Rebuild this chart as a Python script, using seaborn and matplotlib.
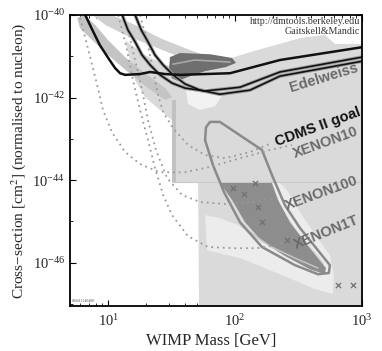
import numpy as np
import pandas as pd
import matplotlib
matplotlib.use("Agg")
import matplotlib.pyplot as plt
import seaborn as sns
from matplotlib.ticker import LogLocator, NullFormatter, LogFormatterMathtext

sns.set_theme(style="ticks")
plt.rcParams['font.family'] = ['Liberation Serif', 'DejaVu Serif']
plt.rcParams['mathtext.fontset'] = 'stix'

# ---------------- data (mass in GeV, log10 of cross-section in cm^2) ----------------
# black limit curves
lim1_mass = [6.6, 7.5, 8.6, 10.0, 11.3, 12.4, 13.6, 17.8, 21.4, 28.1, 36.8, 91.2, 225.9, 1000]
lim1_logxs = [-40.00, -40.36, -40.73, -41.04, -41.28, -41.41, -41.45, -41.43, -41.38, -41.43, -41.45, -41.41, -41.09, -40.78]
lim2_mass = [12.9, 14.3, 16.3, 18.5, 21.4, 25.6, 31.9, 40.3, 58.0, 109.3, 225.9, 1000]
lim2_logxs = [-40.00, -40.36, -40.65, -40.97, -41.21, -41.45, -41.65, -41.77, -41.84, -41.75, -41.38, -41.02]
lim3_mass = [16.3, 18.2, 20.6, 23.4, 27.1, 32.4, 40.3, 53.0, 76.0, 131.0, 225.9, 1000]
lim3_logxs = [-40.00, -40.36, -40.65, -40.97, -41.21, -41.45, -41.67, -41.82, -41.92, -41.82, -41.48, -41.12]

# projected sensitivities (dotted)
xe10_mass = [6.0, 6.6, 7.3, 8.2, 9.1, 10.7, 13.6, 17.8, 25.6, 40.3, 63.4, 109.3, 188.4, 280.5]
xe10_logxs = [-40.07, -40.56, -41.09, -41.70, -42.30, -42.84, -43.32, -43.61, -43.81, -43.81, -43.68, -43.47, -43.27, -43.15]
cdms_mass = [17.8, 20.2, 22.6, 24.7, 27.1, 32.4, 42.6, 58.0, 83.2, 131.0, 195.3]
cdms_logxs = [-40.00, -40.61, -41.33, -41.94, -42.35, -42.74, -43.15, -43.39, -43.47, -43.32, -43.10]
xe100_mass = [14.3, 16.3, 18.5, 20.6, 23.8, 29.1, 38.2, 53.0, 83.2, 143.5, 234.1]
xe100_logxs = [-40.36, -41.09, -41.82, -42.55, -43.27, -43.95, -44.36, -44.53, -44.58, -44.53, -44.39]
xe1t_mass = [12.0, 13.8, 15.7, 17.8, 20.6, 23.4, 27.1, 31.9, 42.6, 61.2, 99.8, 148.7, 206.2, 270.6]
xe1t_logxs = [-40.00, -40.73, -41.58, -42.30, -43.03, -43.71, -44.36, -44.85, -45.36, -45.62, -45.65, -45.65, -45.58, -45.45]

# shaded regions
band1_mass = [5.7, 6.5, 7.9, 10.0, 13.6, 19.5, 28.1, 31.9, 28.1, 20.6, 14.3, 10.0, 7.5, 6.0]
band1_logxs = [-40.07, -40.00, -40.24, -40.61, -41.02, -41.41, -41.77, -41.99, -42.06, -41.77, -41.38, -40.97, -40.61, -40.32]
band2_mass = [7.5, 10.7, 16.3, 25.6, 44.2, 63.4, 53.0, 33.6, 21.4, 13.6, 9.5]
band2_logxs = [-40.00, -40.00, -40.24, -40.56, -40.85, -41.02, -41.14, -40.97, -40.73, -40.48, -40.24]
big_mass = [13.6, 19.5, 28.1, 40.3, 58.0, 83.2, 131.0, 206.2, 324.5, 510.6, 612.0, 1000, 1000,
            52.0, 51.1, 31.9, 31.9, 25.6, 19.5, 16.3]
big_logxs = [-40.61, -40.97, -41.21, -41.28, -41.24, -41.09, -40.90, -40.73, -40.56, -40.48, -40.70, -40.70, -47.10,
             -47.10, -44.05, -44.05, -42.55, -42.30, -41.99, -41.58]
notch_mass = [41.1, 65.8, 78.8, 69.5, 53.0, 42.6]
notch_logxs = [-41.82, -41.77, -41.96, -42.21, -42.30, -42.16]
stripe_mass = [31.9, 34.2, 34.2, 31.9]
stripe_logxs = [-42.06, -42.06, -44.05, -44.05]
boxedge_mass = [31.9, 1000]
boxedge_logxs = [-44.05, -44.05]
pale_mass = [58.0, 60.1, 109.3, 225.9, 425.6, 590.0, 600.5, 558.6, 449.5, 324.5, 256.5, 225.9, 188.4,
             225.9, 296.3, 403.5, 501.4, 501.4, 355.1, 234.1, 151.4, 105.4, 76.0]
pale_logxs = [-44.85, -45.70, -45.89, -46.28, -46.64, -46.76, -46.30, -45.82, -45.41, -44.78, -44.24, -44.07, -44.07,
              -44.61, -45.16, -45.65, -45.99, -46.23, -46.04, -45.75, -45.45, -45.09, -44.92]
blob_mass = [76.0, 195.3, 217.9, 270.6, 355.1, 449.5, 520.0, 510.6, 388.7, 247.3, 162.9, 119.7, 94.6]
blob_logxs = [-44.07, -44.07, -44.48, -45.02, -45.50, -45.89, -46.13, -46.28, -46.16, -45.84, -45.48, -45.02, -44.48]
blobline_mass = [131.0, 188.4, 296.3, 449.5]
blobline_logxs = [-45.26, -45.60, -45.89, -46.13]
loop_mass = [58.0, 59.0, 63.4, 76.0, 162.9, 195.3, 247.3, 324.5, 449.5, 558.6, 548.5, 449.5, 296.3, 162.9,
             109.3, 81.8, 67.0, 58.0]
loop_logxs = [-43.03, -42.72, -42.59, -42.59, -43.27, -43.88, -44.61, -45.16, -45.70, -46.06, -46.25, -46.28,
              -46.06, -45.62, -45.02, -44.29, -43.64, -43.03]
cres_mass = [30.7, 36.8, 63.4, 94.6, 101.7, 84.8, 58.0, 44.2, 35.5, 31.9, 30.2]
cres_logxs = [-41.02, -40.92, -40.95, -41.04, -41.16, -41.26, -41.36, -41.48, -41.60, -41.53, -41.28]
cresline_mass = [32.4, 48.3, 91.2]
cresline_logxs = [-41.19, -41.09, -41.14]

# theory points (crosses)
pts_mass = [96.2, 117.5, 143.5, 151.4, 162.9, 256.5, 646, 847]
pts_logxs = [-44.19, -44.34, -44.07, -44.65, -45.02, -45.45, -46.55, -46.55]

# labels
label_text = ["Edelweiss", "CDMS II goal", "XENON10", "XENON100", "XENON1T"]
label_mass = [501.4, 449.5, 520.0, 483.5, 520.0]
label_logxs = [-41.53, -42.72, -43.10, -44.32, -45.26]
label_color = ["#6a6a6a", "#111111", "#6a6a6a", "#6a6a6a", "#6a6a6a"]
label_rot = [17, 20, 20, 20, 22]

# ---------------- figure ----------------
fig = plt.figure(figsize=(3.82, 3.51), dpi=100)
ax = fig.add_axes([0.1832, 0.1282, 0.7644, 0.829])
ax.set_xscale('log')
ax.set_yscale('log')
ax.set_xlim(5, 1000)
ax.set_ylim(10 ** -47.05, 1e-40)

def poly(m, lg, color, z):
    ax.fill(m, np.power(10.0, lg), color=color, lw=0, zorder=z)

def line(m, lg, color, lw, z, ls='-'):
    df = pd.DataFrame({"m": m, "xs": np.power(10.0, lg)})
    sns.lineplot(data=df, x="m", y="xs", sort=False, estimator=None, ax=ax,
                 color=color, lw=lw, linestyle=ls, zorder=z)

poly(big_mass, big_logxs, "#dadada", 1)
poly(band2_mass, band2_logxs, "#d0d0d0", 1.1)
poly(band1_mass, band1_logxs, "#c4c4c4", 1.2)
poly(notch_mass, notch_logxs, "#f2f2f2", 1.3)
poly(stripe_mass, stripe_logxs, "#c2c2c2", 1.3)
line(boxedge_mass, boxedge_logxs, "#c8c8c8", 0.8, 1.35)
poly(pale_mass, pale_logxs, "#ececec", 1.4)
poly(blob_mass, blob_logxs, "#8d8d8d", 1.5)
line(blobline_mass, blobline_logxs, "#c8c8c8", 1.0, 1.6)
poly(cres_mass, cres_logxs, "#6f6f6f", 1.5)
line(cresline_mass, cresline_logxs, "#a8a8a8", 1.2, 1.6)
line(loop_mass, loop_logxs, "#8a8a8a", 1.8, 1.7)

dot = (0, (1, 2.2))
for m, lg in [(xe10_mass, xe10_logxs), (cdms_mass, cdms_logxs),
              (xe100_mass, xe100_logxs), (xe1t_mass, xe1t_logxs)]:
    line(m, lg, "#9a9a9a", 1.3, 2, dot)

line(lim2_mass, lim2_logxs, "#a0a0a0", 2.6, 2.5)
line(lim3_mass, lim3_logxs, "#a0a0a0", 2.6, 2.5)
line(lim2_mass, lim2_logxs, "#111111", 1.2, 3)
line(lim3_mass, lim3_logxs, "#111111", 1.2, 3)
line(lim1_mass, lim1_logxs, "#111111", 1.8, 3)

pts = pd.DataFrame({"m": pts_mass, "xs": np.power(10.0, pts_logxs)})
sns.scatterplot(data=pts, x="m", y="xs", ax=ax, marker="x", s=14, color="#707070",
                linewidth=0.9, zorder=4)

for t, m, lg, c, r in zip(label_text, label_mass, label_logxs, label_color, label_rot):
    ax.text(m, 10 ** lg, t, color=c, rotation=r, ha='center', va='center',
            fontsize=10.5, fontweight='bold', family=['Liberation Sans', 'DejaVu Sans'],
            zorder=5, clip_on=True, rotation_mode='anchor')

ax.text(0.993, 0.979, "http://dmtools.berkeley.edu", transform=ax.transAxes, ha='right', va='center',
        fontsize=7.2, color='#333333', zorder=6)
ax.text(0.993, 0.945, "Gaitskell&Mandic", transform=ax.transAxes, ha='right', va='center',
        fontsize=7.2, color='#333333', zorder=6)
ax.text(0.008, 0.018, "080411140408", transform=ax.transAxes, ha='left', va='center',
        fontsize=2.8, color='#555555', zorder=6)

ax.set_xlabel("WIMP Mass [GeV]", fontsize=12)
ax.set_ylabel("Cross\u2212section [cm$^2$] (normalised to nucleon)", fontsize=11)
ax.xaxis.set_label_coords(0.483, -0.094)
ax.yaxis.set_label_coords(-0.145, 0.5)

ax.xaxis.set_major_locator(LogLocator(base=10, numticks=10))
ax.xaxis.set_minor_locator(LogLocator(base=10, subs=np.arange(2, 10), numticks=20))
ax.xaxis.set_minor_formatter(NullFormatter())
ax.yaxis.set_major_locator(matplotlib.ticker.FixedLocator([1e-46, 1e-44, 1e-42, 1e-40]))
ax.yaxis.set_major_formatter(LogFormatterMathtext())
ax.yaxis.set_minor_locator(matplotlib.ticker.FixedLocator([1e-47, 1e-45, 1e-43, 1e-41]))
ax.yaxis.set_minor_formatter(NullFormatter())
ax.tick_params(which='both', direction='in', top=True, right=True, color='black', labelsize=10.5)
ax.tick_params(which='major', length=4, width=0.8)
ax.tick_params(which='minor', length=2.5, width=0.6)
ax.tick_params(axis='x', pad=5)
for s in ax.spines.values():
    s.set_color('black')
    s.set_linewidth(1.3)
    s.set_zorder(10)
ax.set_facecolor('white')

fig.savefig("out.png", dpi=100)
